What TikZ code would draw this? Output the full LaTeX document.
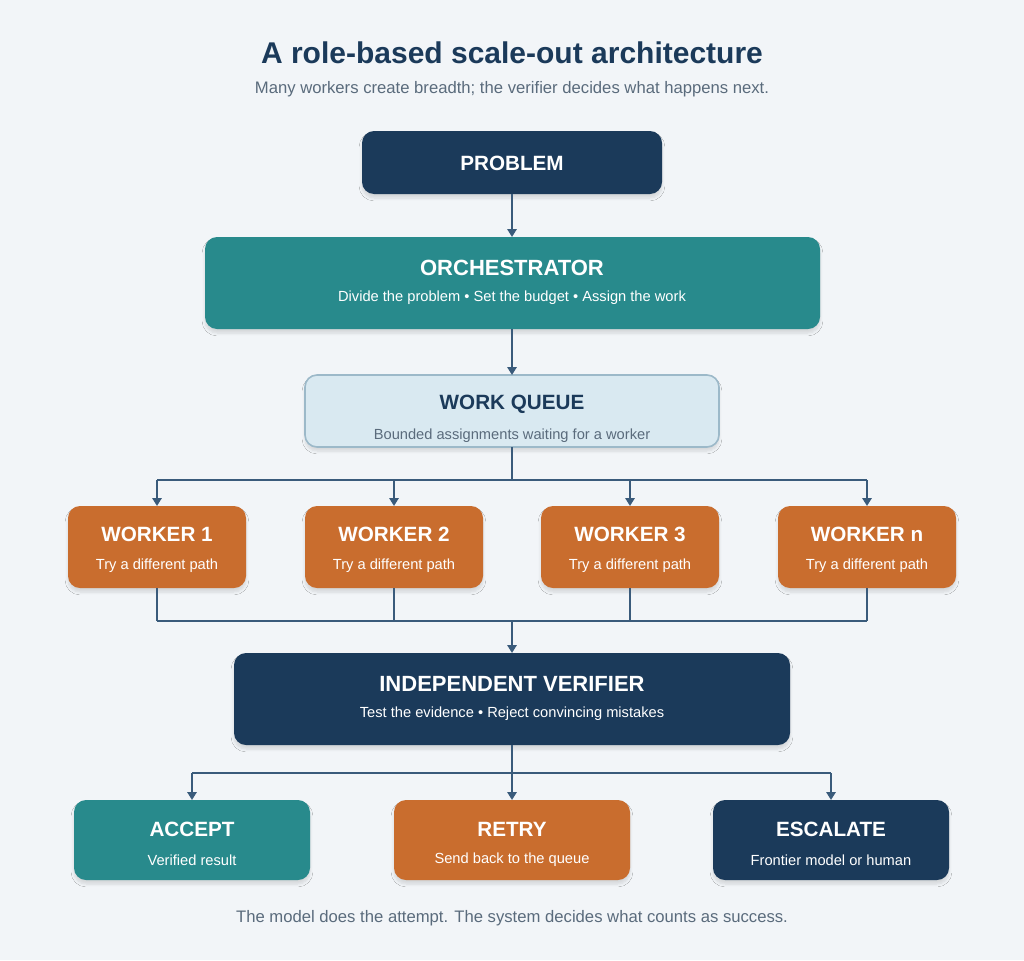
\documentclass[tikz,border=0pt]{standalone}
\usepackage{fontspec}
\setmainfont{Liberation Sans}
\usetikzlibrary{arrows.meta,shadows.blur}
\definecolor{bg}{HTML}{F2F5F8}
\definecolor{navy}{HTML}{1B3A5A}
\definecolor{teal}{HTML}{288A8C}
\definecolor{orng}{HTML}{C96D2E}
\definecolor{lblue}{HTML}{D9E9F1}
\definecolor{lbord}{HTML}{9CB9C9}
\definecolor{gtext}{HTML}{5A6B7C}
\definecolor{wire}{HTML}{3A5B7B}
\begin{document}
\begin{tikzpicture}[x=0.75pt,y=-0.75pt,
  box/.style={rounded corners=9pt,draw=none,blur shadow={shadow blur steps=6,shadow xshift=0pt,shadow yshift=-3pt,shadow opacity=12}},
  ttl/.style={font=\bfseries\fontsize{15.5}{18}\selectfont,text=white},
  sub/.style={font=\fontsize{11}{13}\selectfont,text=white},
  wr/.style={draw=wire,line width=2.2pt},
  ar/.style={wr,-{Triangle[length=6pt,width=7pt]}}]
\fill[bg] (0,0) rectangle (1024,960);
\node[font=\bfseries\fontsize{22.5}{26}\selectfont,text=navy] (title) at (512,53) {A role-based scale-out architecture};
\node[font=\fontsize{12.5}{15}\selectfont,text=gtext] (subt) at (512,89) {Many workers create breadth; the verifier decides what happens next.};
% boxes
\fill[box,navy] (362,131) rectangle (662,194);
\node[ttl] (prob) at (512,163) {PROBLEM};
\coordinate (probB) at (512,194);
\fill[box,teal] (205,237) rectangle (820,329);
\node[ttl,font=\bfseries\fontsize{16.5}{19}\selectfont] (orch) at (512,268) {ORCHESTRATOR};
\node[sub] (orchs) at (512,298) {Divide the problem • Set the budget • Assign the work};
\coordinate (orchT) at (512,237); \coordinate (orchB) at (512,329);
\fill[box,lblue,draw=lbord,line width=1.2pt] (305,375) rectangle (719,447);
\node[ttl,text=navy] (wq) at (512,404) {WORK QUEUE};
\node[sub,text=gtext] (wqs) at (512,436) {Bounded assignments waiting for a worker};
\coordinate (wqT) at (512,375); \coordinate (wqB) at (512,447);
\coordinate (split) at (512,480);
\foreach \n/\x/\l in {1/157/1,2/394/2,3/630/3,4/867/n}{
  \fill[box,orng] (\x-89,506) rectangle (\x+89,588);
  \node[ttl] (w\n) at (\x,534) {WORKER \l};
  \node[sub] (w\n s) at (\x,566) {Try a different path};
  \coordinate (w\n T) at (\x,506); \coordinate (w\n B) at (\x,588);
  \coordinate (w\n J) at (\x,480); \coordinate (w\n K) at (\x,621);
}
\coordinate (merge) at (512,621);
\fill[box,navy] (234,653) rectangle (790,745);
\node[ttl,font=\bfseries\fontsize{16.5}{19}\selectfont] (ver) at (512,684) {INDEPENDENT VERIFIER};
\node[sub] (vers) at (512,714) {Test the evidence • Reject convincing mistakes};
\coordinate (verT) at (512,653); \coordinate (verB) at (512,745);
\coordinate (split2) at (512,773);
\foreach \n/\x/\c/\t/\s in {a/192/teal/ACCEPT/Verified result,r/512/orng/RETRY/Send back to the queue,e/831/navy/ESCALATE/Frontier model or human}{
  \fill[box,\c] (\x-118,800) rectangle (\x+118,880);
  \node[ttl] (o\n) at (\x,829) {\t};
  \node[sub] (o\n s) at (\x,860) {\s};
  \coordinate (o\n T) at (\x,800); \coordinate (o\n J) at (\x,773);
}
\node[font=\fontsize{12.5}{15}\selectfont,text=gtext] (foot) at (512,918) {The model does the attempt. The system decides what counts as success.};
% connectors
\draw[ar] (probB) -- (orchT);
\draw[ar] (orchB) -- (wqT);
\draw[wr] (wqB) -- (split);
\draw[wr] (w1J) -- (w4J);
\foreach \n in {1,2,3,4}{\draw[ar] (w\n J) -- (w\n T); \draw[wr] (w\n B) -- (w\n K);}
\draw[wr] (w1K) -- (w4K);
\draw[ar] (merge) -- (verT);
\draw[wr] (verB) -- (split2);
\draw[wr] (oaJ) -- (oeJ);
\foreach \n in {a,r,e}{\draw[ar] (o\n J) -- (o\n T);}
\end{tikzpicture}
\end{document}
